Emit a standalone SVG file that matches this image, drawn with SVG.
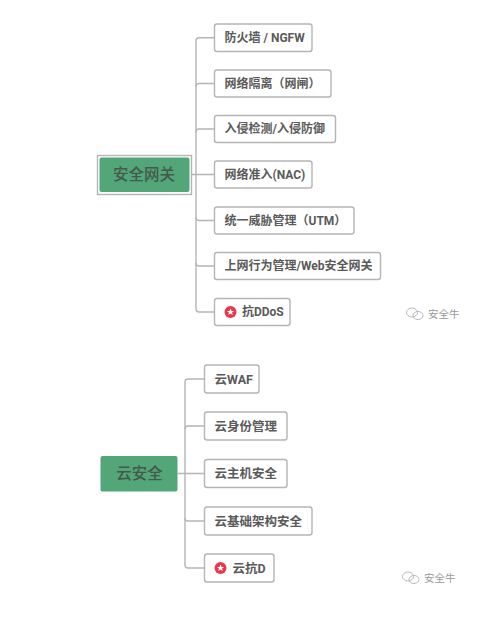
<svg xmlns="http://www.w3.org/2000/svg" width="483" height="619" viewBox="0 0 483 619">
<style>
.n{fill:#fff;stroke:#b5b5b5;stroke-width:1.4}
.r{fill:#53a677}
.c{fill:none;stroke:#b5b5b5;stroke-width:1.4}
text{font-family:Roboto,"Noto Sans CJK SC","Noto Sans",sans-serif;fill:#5a5a5a}
.t{font-size:12px;font-weight:700;dominant-baseline:central}
.u{font-size:12.500px;font-weight:700;dominant-baseline:central}
.h{font-size:15.500px;font-weight:500;text-anchor:middle;dominant-baseline:central;fill:#44594d}
.w{font-size:10.500px;fill:#9a9a9a;dominant-baseline:central}
.i{fill:none;stroke:#aaa;stroke-width:.8}
</style>
<defs>
<g id="star"><circle r="6" fill="#e8394a"/><polygon fill="#fff" points="0,-3.6 1,-1.1 3.600,-1.100 1.500,.5 2.300,3 0,1.500 -2.300,3 -1.500,.5 -3.600,-1.100 -1,-1.100"/></g>
<g id="wx"><ellipse cx="-3" cy="-1.500" rx="5.500" ry="4.500" class="i"/><ellipse cx="3" cy="1.500" rx="5" ry="4" class="i" fill="#fff"/></g>
</defs>
<rect width="483" height="619" fill="#fff"/>
<g id="connectors">
<path class="c" d="M214.500 37.700H199a3 3 0 0 0-3 3V309a3 3 0 0 0 3 3H214.500"/>
<path class="c" d="M196 86.500q0-3 3-3H214.500M196 132q0-3 3-3H214.500M189 174.500H214.500M196 217.500q0 3 3 3H214.500M196 263q0 3 3 3H214.500"/>
<path class="c" d="M204.500 379H188a3 3 0 0 0-3 3V565a3 3 0 0 0 3 3H204.500"/>
<path class="c" d="M185 429q0-3 3-3H204.500M177.500 473.500H204.500M185 518q0 3 3 3H204.500"/>
</g>
<g id="gw"><rect x="97.500" y="155.500" width="94" height="39" class="n" fill="none"/><rect x="99.500" y="157.500" width="90" height="34.500" rx="2" class="r"/><text class="h" x="144" y="174.500">安全网关</text></g>
<g id="g1"><rect x="214.500" y="24" width="97.500" height="27.500" rx="2.500" class="n"/><text class="t" x="224.500" y="37.800">防火墙 / NGFW</text></g>
<g id="g2"><rect x="214.500" y="70" width="116.500" height="27" rx="2.500" class="n"/><text class="t" x="224.500" y="83.800">网络隔离（网闸）</text></g>
<g id="g3"><rect x="214.500" y="115.500" width="121" height="27" rx="2.500" class="n"/><text class="t" x="224.500" y="129.300">入侵检测/入侵防御</text></g>
<g id="g4"><rect x="214.500" y="161" width="97.500" height="27" rx="2.500" class="n"/><text class="t" x="224.500" y="174.800">网络准入(NAC)</text></g>
<g id="g5"><rect x="214.500" y="207" width="139.500" height="27" rx="2.500" class="n"/><text class="t" x="224.500" y="220.800">统一威胁管理（UTM）</text></g>
<g id="g6"><rect x="214.500" y="252.500" width="166" height="27" rx="2.500" class="n"/><text class="t" x="224.500" y="266.300">上网行为管理/Web安全网关</text></g>
<g id="g7"><rect x="214.500" y="298.500" width="75.500" height="27" rx="2.500" class="n"/><use href="#star" x="230.500" y="312"/><text class="t" x="242" y="312.300">抗DDoS</text></g>
<g id="wm1"><use href="#wx" x="415" y="314"/><text class="w" x="428" y="314">安全牛</text></g>
<g id="cloud"><rect x="100.500" y="456" width="77" height="35.500" rx="2" class="r"/><text class="h" x="139.500" y="473.500">云安全</text></g>
<g id="c1"><rect x="204.500" y="365" width="54.500" height="28" rx="2.500" class="n"/><text class="u" x="214.500" y="379.300">云WAF</text></g>
<g id="c2"><rect x="204.500" y="412" width="82.500" height="28" rx="2.500" class="n"/><text class="u" x="214.500" y="426.300">云身份管理</text></g>
<g id="c3"><rect x="204.500" y="459.500" width="82.500" height="28" rx="2.500" class="n"/><text class="u" x="214.500" y="473.800">云主机安全</text></g>
<g id="c4"><rect x="204.500" y="507" width="107.500" height="28" rx="2.500" class="n"/><text class="u" x="214.500" y="521.300">云基础架构安全</text></g>
<g id="c5"><rect x="204.500" y="554" width="69.500" height="28" rx="2.500" class="n"/><use href="#star" x="220.500" y="568"/><text class="u" x="232.500" y="568.300">云抗D</text></g>
<g id="wm2"><use href="#wx" x="411" y="578"/><text class="w" x="424" y="578">安全牛</text></g>
</svg>
